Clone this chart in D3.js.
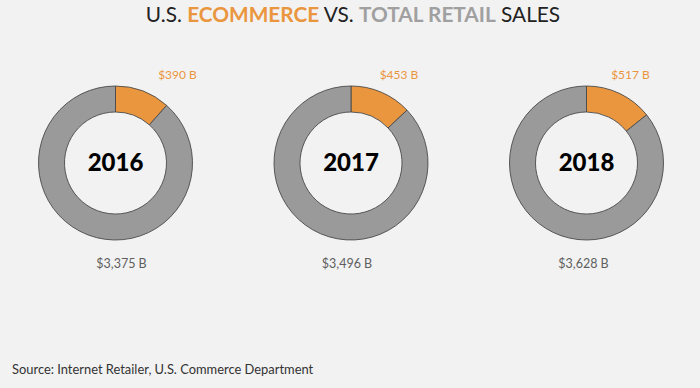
<!DOCTYPE html>
<html><head><meta charset="utf-8">
<script src="https://cdn.jsdelivr.net/npm/d3@7"></script>
<style>
html,body{margin:0;padding:0;background:#f2f2f2;}
svg{display:block;font-family:Lato,"Open Sans",sans-serif;}
</style></head>
<body>
<svg id="chart" width="700" height="388"></svg>
<script>
const years = ["2016", "2017", "2018"];
const ecommerce = [390, 453, 517];
const totalRetail = [3375, 3496, 3628];
const ecomLabels = ["$390 B", "$453 B", "$517 B"];
const totalLabels = ["$3,375 B", "$3,496 B", "$3,628 B"];

const W = 700, H = 388;
const svg = d3.select("#chart");
const ORANGE = "#ea963f", GRAY = "#9a9a9a";

// title
const title = svg.append("text").attr("x", 353).attr("y", 22)
  .attr("text-anchor", "middle").attr("font-size", 20.8).attr("fill", "#222");
title.append("tspan").text("U.S. ");
title.append("tspan").text("ECOMMERCE").attr("fill", ORANGE).attr("font-weight", 700);
title.append("tspan").text(" VS. ");
title.append("tspan").text("TOTAL RETAIL").attr("fill", "#a0a0a0").attr("font-weight", 700);
title.append("tspan").text(" SALES");

const x = d3.scalePoint().domain(years).range([115.5, 586.5]);
const cy = 163;
const outerR = 77, innerR = 51;
const arc = d3.arc().innerRadius(innerR).outerRadius(outerR);
const pie = d3.pie().sort(null).value(d => d.v);

const topDx = [62, 48, 44];
const botDx = [6, -4, -3];

years.forEach((yr, i) => {
  const g = svg.append("g").attr("transform", `translate(${x(yr)},${cy})`);
  const data = [{k: "e", v: ecommerce[i]}, {k: "r", v: totalRetail[i] - ecommerce[i]}];
  g.selectAll("path").data(pie(data)).join("path")
    .attr("d", arc)
    .attr("fill", d => d.data.k === "e" ? ORANGE : GRAY)
    .attr("stroke", "#4a4a4a").attr("stroke-width", 0.9);
  g.append("text").attr("y", 8).attr("text-anchor", "middle")
    .attr("font-size", 24).attr("font-weight", 900).attr("fill", "#000").text(yr);
  g.append("text").attr("x", topDx[i]).attr("y", -84).attr("text-anchor", "middle")
    .attr("font-size", 12).attr("fill", ORANGE).text(ecomLabels[i]);
  g.append("text").attr("x", botDx[i]).attr("y", 105).attr("text-anchor", "middle")
    .attr("font-size", 12.5).attr("fill", "#5e5e5e").text(totalLabels[i]);
});

svg.append("text").attr("x", 12).attr("y", 374).attr("font-size", 12.9)
  .attr("fill", "#333").text("Source: Internet Retailer, U.S. Commerce Department");
</script>
</body></html>
